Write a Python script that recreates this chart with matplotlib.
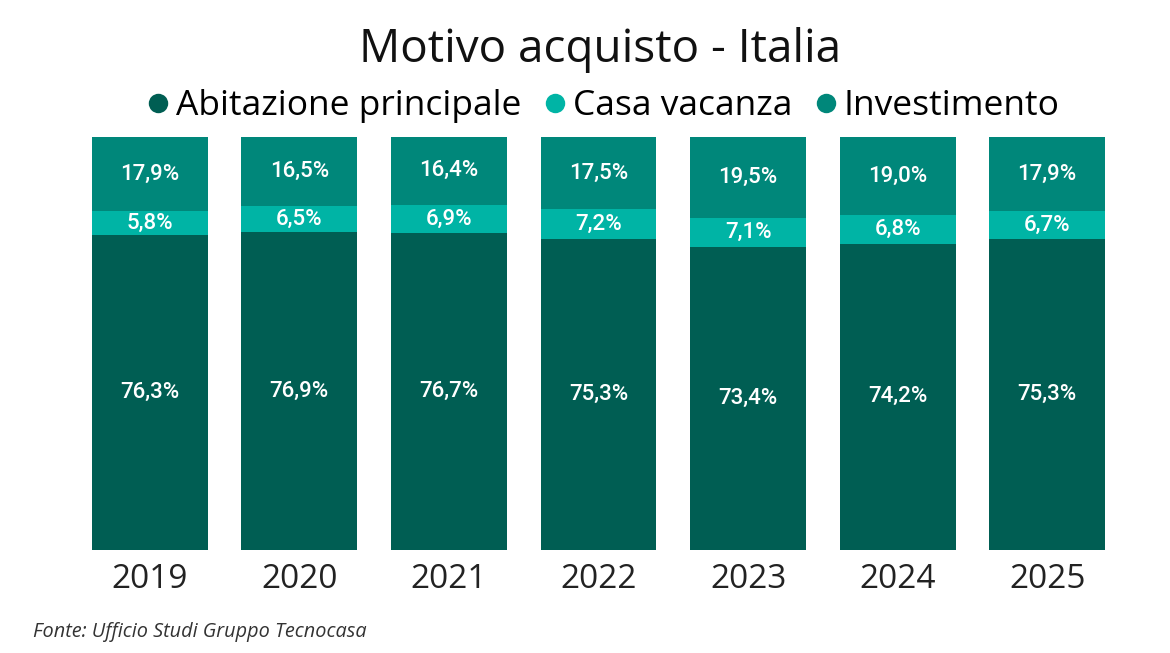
import numpy as np
import matplotlib
matplotlib.use('Agg')
import matplotlib.pyplot as plt
from matplotlib.lines import Line2D

years = ['2019', '2020', '2021', '2022', '2023', '2024', '2025']
abitazione = [76.3, 76.9, 76.7, 75.3, 73.4, 74.2, 75.3]
vacanza = [5.8, 6.5, 6.9, 7.2, 7.1, 6.8, 6.7]
investimento = [17.9, 16.5, 16.4, 17.5, 19.5, 19.0, 17.9]

series_names = ['Abitazione principale', 'Casa vacanza', 'Investimento']
colors = ['#005E53', '#00B4A5', '#00877A']

fig = plt.figure(figsize=(11.7, 6.53), dpi=100)
ax = fig.add_axes([75/1170, 103/653, 1047/1170, 413/653])

x = np.arange(len(years))
width = 0.775
bottom = np.zeros(len(years))
label_font = ['Liberation Sans Narrow', 'Roboto', 'DejaVu Sans']
for vals, col in zip([abitazione, vacanza, investimento], colors):
    vals = np.array(vals)
    ax.bar(x, vals, width, bottom=bottom, color=col, edgecolor='none')
    for xi, b, v in zip(x, bottom, vals):
        ax.text(xi, b + v / 2, f"{v:.1f}%".replace('.', ','), ha='center', va='center',
                color='white', fontsize=16, fontweight='medium', family=label_font)
    bottom += vals

ax.set_xlim(-0.5, len(years) - 0.5)
ax.set_ylim(0, 100)
ax.set_xticks(x)
ax.set_xticklabels(years, fontsize=24, family=['Open Sans', 'DejaVu Sans'], color='#222222')
ax.tick_params(axis='x', length=0, pad=9)
ax.set_yticks([])
for s in ax.spines.values():
    s.set_visible(False)

fig.text(600/1170, 0.924, 'Motivo acquisto - Italia', ha='center', va='center',
         fontsize=33, family=['Open Sans', 'DejaVu Sans'], color='#111111')

handles = [Line2D([], [], marker='o', linestyle='none', markersize=14,
                  markerfacecolor=c, markeredgecolor='none') for c in colors]
fig.legend(handles, series_names, loc='center', bbox_to_anchor=(600/1170, 0.837), ncol=3,
           frameon=False, handletextpad=0.0, columnspacing=0.45, handlelength=1.0,
           prop={'family': 'Open Sans', 'size': 25.5})

fig.text(33/1170, 1 - 632/653, 'Fonte: Ufficio Studi Gruppo Tecnocasa', ha='left', va='center',
         fontsize=14.3, style='italic', family=['Open Sans', 'DejaVu Sans'], color='#333333')

fig.savefig('out.png', dpi=100, facecolor='white')
